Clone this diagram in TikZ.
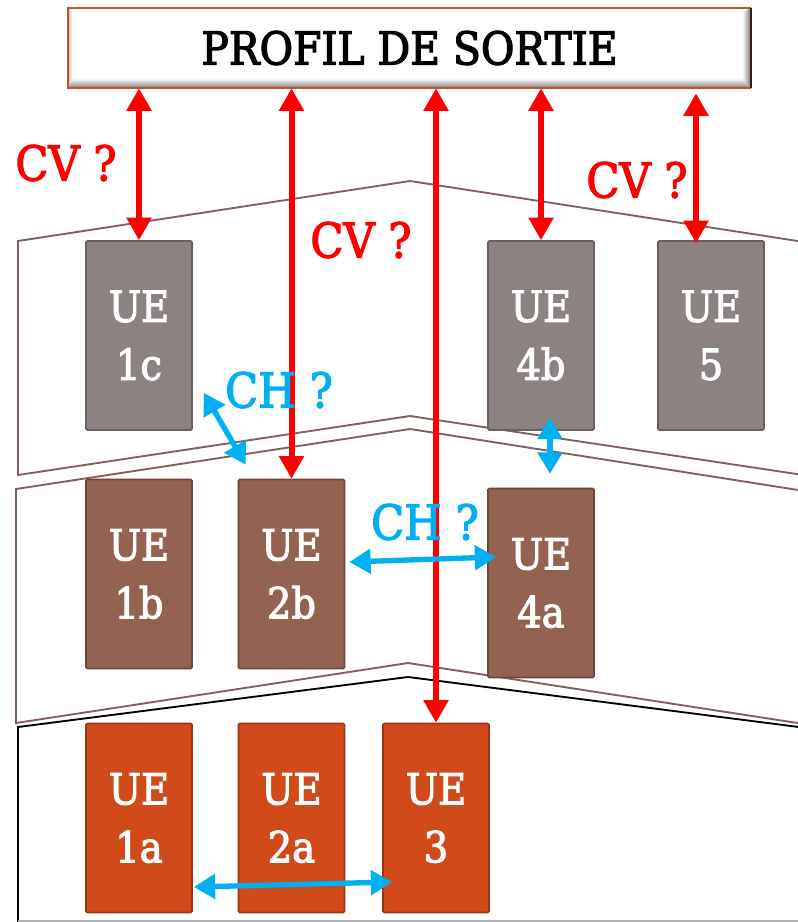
\documentclass[tikz,border=0pt]{standalone}
\usepackage{fontspec}
\setmainfont{DejaVu Serif}[FakeStretch=0.9, FakeBold=2.6]
\usetikzlibrary{arrows.meta,calc}

\definecolor{cvred}{RGB}{255,0,0}
\definecolor{chblue}{RGB}{0,176,240}
\definecolor{greyfill}{RGB}{141,130,130}
\definecolor{greyedge}{RGB}{108,94,94}
\definecolor{brownfill}{RGB}{148,98,80}
\definecolor{brownedge}{RGB}{112,70,56}
\definecolor{rustfill}{RGB}{209,74,26}
\definecolor{rustedge}{RGB}{158,52,20}
\definecolor{bandline}{RGB}{130,95,95}
\definecolor{titleedge}{RGB}{196,82,34}
\definecolor{titledark}{RGB}{60,28,18}

\tikzset{
  uebox/.style={rectangle, rounded corners=1pt, line width=1.2pt,
    minimum width=79.5pt, minimum height=141.75pt, inner sep=0pt,
    align=center, text=white, font=\fontsize{32}{43.5}\selectfont},
  uegrey/.style={uebox, fill=greyfill, draw=greyedge},
  uebrown/.style={uebox, fill=brownfill, draw=brownedge},
  uerust/.style={uebox, fill=rustfill, draw=rustedge},
  band/.style={draw=bandline, line width=1.4pt, line join=miter},
  cvarrow/.style={draw=cvred, line width=4.5pt,
    {Triangle[length=17pt,width=18pt]}-{Triangle[length=17pt,width=18pt]}},
  charrow/.style={draw=chblue, line width=4pt,
    {Triangle[length=16pt,width=18pt]}-{Triangle[length=16pt,width=18pt]}},
  cvlabel/.style={text=cvred, font=\fontsize{36}{40}\selectfont, inner sep=0pt},
  chlabel/.style={text=chblue, font=\fontsize{36}{40}\selectfont, inner sep=0pt},
}

\begin{document}
\begin{tikzpicture}[x=0.75pt, y=-0.75pt]
  % canvas
  \fill[white] (0,0) rectangle (798,922);
  \clip (0,0) rectangle (798,922);

  % level bands
  \draw[band] (830,246) -- (410,181) -- (18,241) -- (18,475) -- (410,416) -- (830,479);
  \draw[band] (830,495) -- (410,429) -- (16,489) -- (16,723) -- (408,663) -- (830,728);
  \draw[black, line width=1.4pt] (830,731) -- (408,677) -- (18,727) -- (18,930);
  \draw[black!30, line width=1pt] (18,921) -- (798,921);

  % exit profile, a bevelled plate
  \node[rectangle, minimum width=512.25pt, minimum height=60pt, inner sep=0pt,
        fill=white, font=\fontsize{34}{40}\selectfont] (title) at (409.5,48) {};
  \shade[top color=white, bottom color=black!50]
    (title.south west) -- (title.south east) -- ($(title.south east)+(-9,-10)$)
    -- ($(title.south west)+(5,-10)$) -- cycle;
  \shade[left color=white, right color=black!55]
    (title.north east) -- (title.south east) -- ($(title.south east)+(-9,-10)$)
    -- ($(title.north east)+(-9,5)$) -- cycle;
  \shade[left color=black!25, right color=white]
    (title.north west) -- (title.south west) -- ($(title.south west)+(5,-10)$)
    -- ($(title.north west)+(5,5)$) -- cycle;
  \node[font=\fontsize{34}{40}\selectfont] (titletext) at (title.center) {PROFIL DE SORTIE};
  \draw[titleedge, line width=1.6pt]
    (title.north east) -- (title.north west) -- (title.south west) -- (title.south east);
  \draw[titledark, line width=1.8pt] (title.north east) -- (title.south east);

  % teaching units
  \node[uegrey]  (ue1c) at (139,335.5) {UE\\1c};
  \node[uegrey]  (ue4b) at (541,335.5) {UE\\4b};
  \node[uegrey]  (ue5)  at (711,335.5) {UE\\5};
  \node[uebrown] (ue1b) at (139,574)   {UE\\1b};
  \node[uebrown] (ue2b) at (291.5,574) {UE\\2b};
  \node[uebrown] (ue4a) at (541,583)   {UE\\4a};
  \node[uerust]  (ue1a) at (139,818)   {UE\\1a};
  \node[uerust]  (ue2a) at (291.5,818) {UE\\2a};
  \node[uerust]  (ue3)  at (436,818)   {UE\\3};

  % vertical coherence links
  \draw[cvarrow] (ue1c.north) -- (ue1c.north |- title.south);
  \draw[cvarrow] (ue2b.north) -- (ue2b.north |- title.south);
  \draw[cvarrow] (ue3.north) -- (ue3.north |- title.south);
  \draw[cvarrow] (ue4b.north) -- (ue4b.north |- title.south);
  \draw[cvarrow] ($(ue5.north)+(-15,3)$) -- ($(ue5.north |- title.south)+(-15,5)$);

  % horizontal coherence links
  \draw[charrow] ($(ue1c.south east)+(11,-38)$) -- ($(ue2b.north west)+(8,-14)$);
  \draw[charrow] ($(ue4b.south)+(9,-13)$) -- ($(ue4a.north)+(9,-14)$);
  \draw[charrow] ($(ue2b.east)+(4,-12)$) -- ($(ue4a.west)+(9,-26)$);
  \draw[charrow] ($(ue1a.east)+(1,69)$) -- ($(ue3.west)+(10,64)$);

  % labels
  \node[cvlabel] (cvA) at (66,163)  {CV ?};
  \node[cvlabel] (cvB) at (361,240) {CV ?};
  \node[cvlabel] (cvC) at (637,180) {CV ?};
  \node[chlabel] (chA) at (279,390) {CH ?};
  \node[chlabel] (chB) at (425,522) {CH ?};
\end{tikzpicture}
\end{document}
